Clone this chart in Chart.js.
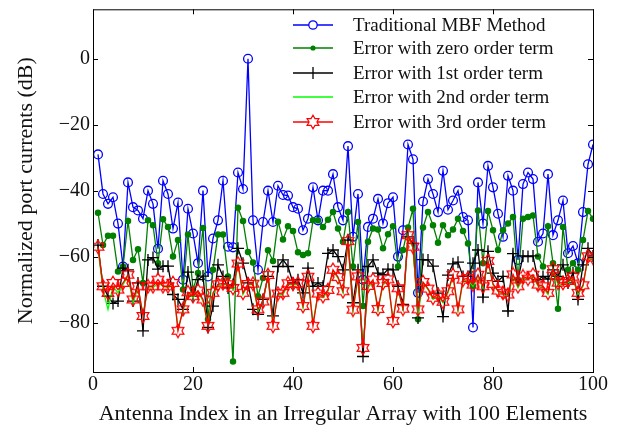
<!DOCTYPE html>
<html>
<head>
<meta charset="utf-8">
<title>Normalized port currents</title>
<script src="https://cdn.jsdelivr.net/npm/chart.js@4.4.1/dist/chart.umd.min.js"></script>
<style>
  body { margin: 0; background: #fff; }
  canvas { display: block; }
</style>
</head>
<body>
<canvas id="port_chart" width="627" height="434"></canvas>
<script>
// antenna index 1..100
const antenna_index = Array.from({length: 100}, (_, i) => i + 1);
const x_ticks = [0, 20, 40, 60, 80, 100];
const y_ticks = [-80, -60, -40, -20, 0];

const mbf_traditional = [
  -29, -41, -44, -42, -50, -63, -37.5, -45, -46, -48.5,
  -40, -44, -57.6, -37, -41, -51.5, -43.6, -67, -45.5, -53,
  -62, -40, -66, -54.5, -49, -37, -57, -57.2, -34.5, -39.5,
  0, -49, -64, -49.5, -40, -49.5, -38.5, -41.3, -41.5, -45,
  -45.5, -52, -48.5, -39, -49, -40, -40, -35, -45, -49,
  -26.5, -54, -41, -67, -51, -48.5, -42.5, -50, -43.8, -42,
  -60, -52, -26, -30.5, -71, -43.3, -36.5, -41, -46.5, -34,
  -45.8, -43, -40, -48, -49, -81.5, -37.5, -50, -32.5, -39,
  -47, -54, -35.5, -40, -61, -38, -34.5, -36.5, -55.5, -53,
  -35, -53.5, -49, -43, -59, -56.8, -62, -46.5, -32, -26
];
const err_zero = [
  -46.7, -56.5, -53.7, -53.7, -64.5, -63, -49.2, -61, -57.8, -68,
  -49, -50.5, -62, -48.7, -51, -60, -55, -70, -53.3, -70,
  -65, -51.3, -79, -64, -53.3, -53.3, -66, -91.8, -45.2, -49.2,
  -58.6, -61.8, -72, -66.5, -58.1, -61.3, -49.4, -54.8, -50.8, -52.2,
  -58.7, -59.5, -59, -49, -49, -51, -48.8, -46.5, -51.5, -55.5,
  -46.5, -63, -49.5, -75, -55.5, -51.5, -51.8, -57.5, -53.2, -50.8,
  -63, -58, -51.2, -45.5, -79, -51.2, -46.5, -50.5, -55.8, -50.5,
  -53.5, -51.8, -48.5, -52.2, -56, -69, -46, -62, -46.2, -52,
  -58, -52, -50, -48, -67, -48.5, -48, -47.5, -60, -63,
  -50.8, -62, -75.8, -51, -64, -62, -64, -55, -46.2, -48.5
];
const err_first = [
  -56.5, -69, -72, -74.2, -73.5, -63.5, -64, -73.5, -68, -82.5,
  -61, -60.3, -63.8, -62.9, -62.9, -71.5, -73, -76, -64.7, -72,
  -67, -65.9, -81.5, -75, -62.5, -66, -69.5, -68.5, -57.5, -62,
  -68, -76, -77.5, -73, -66, -78, -63, -61, -63, -68,
  -67, -71, -63.5, -69, -68, -69, -59, -58, -60, -64,
  -55, -74, -64, -90.3, -63, -61, -65, -65.5, -63.8, -64,
  -69, -74.5, -54, -56, -78.6, -60.9, -61, -62.9, -71.1, -78.2,
  -65.6, -62.2, -61.7, -66, -66, -62, -58, -72.3, -58.4, -65,
  -67.5, -66, -76.5, -59.1, -67, -59.8, -60, -59.8, -67, -66,
  -66.8, -64, -66, -62.5, -68, -65, -73, -62.5, -57.5, -59.8
];
const err_second = [
  -57.5, -70, -76, -69, -71, -68.5, -66, -74, -69.5, -77.5,
  -69.5, -69.5, -68, -69, -69.5, -68.5, -82, -76.5, -71, -72.5,
  -70.5, -73.5, -80.5, -71.5, -69, -68.5, -68.5, -70, -62.5, -71.5,
  -68.5, -68.5, -76.5, -73.5, -66, -80.5, -71.5, -71.5, -68.5, -68.5,
  -68.5, -75.5, -66.5, -80, -71.5, -72.5, -70.5, -64.5, -66.5, -71,
  -55.5, -76.5, -66.5, -87, -69.5, -67.5, -76.5, -68.5, -67.5, -79,
  -70, -76, -54, -57.5, -77.5, -68, -70, -73, -72, -74,
  -71, -66, -76.5, -67.5, -67, -69, -66, -69.5, -61.5, -68.5,
  -70.5, -71.5, -72, -66, -69.5, -66.5, -67, -66, -69, -69.5,
  -71.5, -64, -68.5, -68.5, -68, -66.5, -71.5, -69, -60.5, -60.5
];
const err_third = [
  -57, -69, -71, -68, -70, -68, -65.5, -73, -69, -78,
  -69, -69, -67, -69, -69, -68, -82.5, -76, -70.8, -72,
  -70.3, -73, -81, -71, -68.4, -68.1, -68.4, -69.5, -62.1, -71,
  -68.3, -68.2, -76, -73.6, -65.6, -81, -71.2, -71, -68.1, -68.3,
  -68.1, -75, -66.1, -81, -71.2, -72, -70.1, -64, -66.2, -70.5,
  -55.3, -76.1, -66, -87.7, -68.9, -67, -75.9, -68, -66.9, -79.5,
  -69.6, -75.8, -53.5, -57, -76, -67.7, -69.7, -72.5, -71.5, -73.7,
  -70.5, -65.6, -76, -67, -66.5, -68.5, -65.5, -69, -61.3, -68.3,
  -70.3, -71, -71.5, -65.4, -69, -66, -66.7, -65.5, -68.5, -69,
  -71, -63.8, -67.9, -68, -67.4, -66.1, -71, -68.7, -59.9, -60.3
];

const legend_labels = [
  'Traditional MBF Method',
  'Error with zero order term',
  'Error with 1st order term',
  'Error with 2nd order term',
  'Error with 3rd order term'
];

const FONT = '"Liberation Serif", "Times New Roman", serif';

function toPoints(values) {
  return values.map((v, i) => ({x: antenna_index[i], y: v}));
}

// hexagram marker (matlab 'h')
function makeHexagram(size) {
  const c = document.createElement('canvas');
  c.width = size; c.height = size;
  const g = c.getContext('2d');
  const R = size / 2 - 1.2, r = R / Math.sqrt(3), m = size / 2;
  g.beginPath();
  for (let k = 0; k < 12; k++) {
    const a = -Math.PI / 2 + k * Math.PI / 6;
    const rad = k % 2 === 0 ? R : r;
    const px = m + rad * Math.cos(a), py = m + rad * Math.sin(a);
    if (k === 0) g.moveTo(px, py); else g.lineTo(px, py);
  }
  g.closePath();
  g.strokeStyle = '#ff0000';
  g.lineWidth = 1.2;
  g.stroke();
  return c;
}
const hexagram = makeHexagram(16);

const series = [
  {data: mbf_traditional, color: '#0000ff', marker: 'circle', order: 5},
  {data: err_zero, color: '#008000', marker: 'dot', order: 4},
  {data: err_first, color: '#000000', marker: 'cross', order: 3},
  {data: err_second, color: '#00ff00', marker: 'none', order: 2},
  {data: err_third, color: '#ff0000', marker: 'hex', order: 1}
];

const datasets = series.map((s, i) => {
  const ds = {
    label: legend_labels[i],
    data: toPoints(s.data),
    borderColor: s.color,
    borderWidth: 1.3,
    order: s.order,
    tension: 0,
    pointBorderWidth: 1.3,
    pointBorderColor: s.color,
    pointBackgroundColor: 'rgba(0,0,0,0)'
  };
  if (s.marker === 'circle') { ds.pointStyle = 'circle'; ds.pointRadius = 4.4; }
  if (s.marker === 'dot') { ds.pointStyle = 'circle'; ds.pointRadius = 2.6; ds.pointBackgroundColor = s.color; }
  if (s.marker === 'cross') { ds.pointStyle = 'cross'; ds.pointRadius = 6; ds.pointBorderWidth = 1.3; }
  if (s.marker === 'none') { ds.pointRadius = 0; }
  if (s.marker === 'hex') { ds.pointStyle = hexagram; ds.pointRadius = 8; }
  return ds;
});

// box with inward ticks on all four sides
const framePlugin = {
  id: 'frame',
  afterDraw(chart) {
    const {ctx, chartArea: a, scales} = chart;
    ctx.save();
    ctx.strokeStyle = '#000';
    ctx.lineWidth = 1;
    ctx.strokeRect(a.left + 0.5, a.top + 0.5, a.right - a.left, a.bottom - a.top);
    ctx.beginPath();
    x_ticks.forEach(v => {
      const px = Math.round(scales.x.getPixelForValue(v)) + 0.5;
      ctx.moveTo(px, a.bottom); ctx.lineTo(px, a.bottom - 5);
      ctx.moveTo(px, a.top); ctx.lineTo(px, a.top + 5);
    });
    y_ticks.forEach(v => {
      const py = Math.round(scales.y.getPixelForValue(v)) + 0.5;
      ctx.moveTo(a.left, py); ctx.lineTo(a.left + 5, py);
      ctx.moveTo(a.right, py); ctx.lineTo(a.right - 5, py);
    });
    ctx.stroke();
    ctx.restore();
  }
};

// matlab style legend, drawn by hand
const legendPlugin = {
  id: 'matlabLegend',
  afterDraw(chart) {
    const ctx = chart.ctx;
    const rows = [25, 48, 73, 97, 122];
    const x0 = 293, x1 = 333, xm = 313, xt = 353;
    ctx.save();
    series.forEach((s, i) => {
      const y = rows[i];
      ctx.strokeStyle = s.color;
      ctx.lineWidth = 1.3;
      ctx.beginPath();
      ctx.moveTo(x0, y); ctx.lineTo(x1, y);
      ctx.stroke();
      if (s.marker === 'circle') {
        ctx.beginPath(); ctx.arc(xm, y, 4.2, 0, Math.PI * 2);
        ctx.fillStyle = '#fff'; ctx.fill(); ctx.stroke();
      } else if (s.marker === 'dot') {
        ctx.beginPath(); ctx.arc(xm, y, 2.6, 0, Math.PI * 2);
        ctx.fillStyle = s.color; ctx.fill();
      } else if (s.marker === 'cross') {
        ctx.beginPath();
        ctx.moveTo(xm, y - 6); ctx.lineTo(xm, y + 6);
        ctx.stroke();
      } else if (s.marker === 'hex') {
        ctx.fillStyle = '#fff';
        ctx.beginPath(); ctx.arc(xm, y, 4, 0, Math.PI * 2); ctx.fill();
        ctx.drawImage(hexagram, xm - 8, y - 8);
      }
      ctx.fillStyle = '#111';
      ctx.font = '19px ' + FONT;
      ctx.textAlign = 'left';
      ctx.textBaseline = 'middle';
      ctx.fillText(legend_labels[i], xt, y + 1);
    });
    ctx.restore();
  }
};

function minusSign(v) {
  return String(v).replace('-', '\u2212');
}

new Chart(document.getElementById('port_chart'), {
  type: 'line',
  data: {datasets: datasets},
  options: {
    responsive: false,
    animation: false,
    devicePixelRatio: 1,
    layout: {padding: {left: 0, top: 7, right: 34, bottom: 0}},
    plugins: {legend: {display: false}, tooltip: {enabled: false}},
    scales: {
      x: {
        type: 'linear',
        min: 0, max: 100,
        grid: {display: false, drawTicks: false},
        border: {display: false},
        afterBuildTicks: scale => { scale.ticks = x_ticks.map(v => ({value: v})); },
        afterFit: scale => { scale.height = 62; },
        ticks: {
          color: '#111', padding: 1, maxRotation: 0,
          font: {family: FONT, size: 20},
          callback: v => minusSign(v)
        },
        title: {
          display: true,
          text: 'Antenna Index in an Irregular Array with 100 Elements',
          color: '#111',
          font: {family: FONT, size: 22},
          padding: {top: 0, bottom: 7}
        }
      },
      y: {
        min: -95, max: 15,
        grid: {display: false, drawTicks: false},
        border: {display: false},
        afterBuildTicks: scale => { scale.ticks = y_ticks.map(v => ({value: v})); },
        afterFit: scale => {
          scale.width = 93;
          scale.paddingTop = 0;
          scale.paddingBottom = 0;
        },
        ticks: {
          color: '#111', padding: 3,
          font: {family: FONT, size: 20},
          callback: v => minusSign(v)
        },
        title: {
          display: true,
          text: 'Normalized port currents (dB)',
          color: '#111',
          font: {family: FONT, size: 22},
          padding: {top: 13, bottom: 0}
        }
      }
    }
  },
  plugins: [framePlugin, legendPlugin]
});
</script>
</body>
</html>
